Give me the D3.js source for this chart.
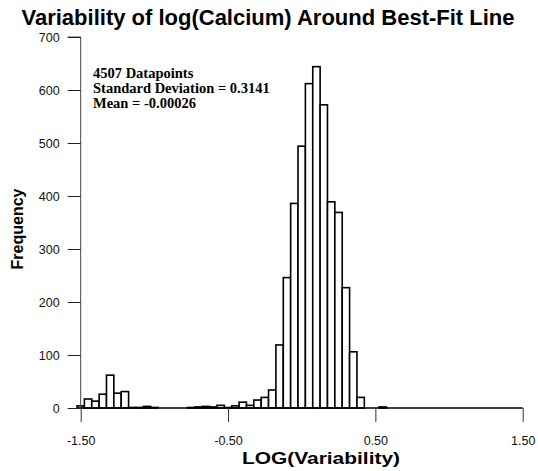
<!DOCTYPE html>
<html>
<head>
<meta charset="utf-8">
<script src="https://cdn.jsdelivr.net/npm/d3@7"></script>
<style>
  html, body { margin: 0; padding: 0; background: #fff; }
  svg { display: block; }
</style>
</head>
<body>
<svg id="chart" width="538" height="471"></svg>
<script>
// ---- data ----
const binCenters = [-1.50,-1.45,-1.40,-1.35,-1.30,-1.25,-1.20,-1.15,-1.10,-1.05,-1.00,-0.95,-0.90,-0.85,-0.80,-0.75,-0.70,-0.65,-0.60,-0.55,-0.50,-0.45,-0.40,-0.35,-0.30,-0.25,-0.20,-0.15,-0.10,-0.05,0.00,0.05,0.10,0.15,0.20,0.25,0.30,0.35,0.40,0.45,0.50,0.55];
const binCounts  = [4,17,13,26,62,28,31,1,1,3,1,0,0,0,0,1,2,3,2,5,1,4,11,5,15,20,34,119,246,386,494,612,644,572,389,369,227,106,20,0,0,2];
const binWidth = 0.05;
const xTicks = [-1.5, -0.5, 0.5, 1.5];
const xTickLabels = ["-1.50", "-0.50", "0.50", "1.50"];
const yTicks = [0, 100, 200, 300, 400, 500, 600, 700];
const titleText = "Variability of log(Calcium) Around Best-Fit Line";
const xLabel = "LOG(Variability)";
const yLabel = "Frequency";
const notes = ["4507 Datapoints", "Standard Deviation = 0.3141", "Mean = -0.00026"];

// ---- layout ----
const svg = d3.select("#chart");
const x = d3.scaleLinear().domain([-1.5, 1.5]).range([80.7, 522.7]);
const y = d3.scaleLinear().domain([0, 700]).range([408, 37]);

// title
svg.append("text")
  .attr("x", 268).attr("y", 25)
  .attr("text-anchor", "middle")
  .attr("font-family", "Liberation Sans, Arial, sans-serif")
  .attr("font-weight", "bold")
  .attr("font-size", 22)
  .attr("textLength", 493).attr("lengthAdjust", "spacingAndGlyphs")
  .text(titleText);

// bars
const bars = binCenters.map((c, i) => ({c, n: binCounts[i]})).filter(d => d.n > 0);
svg.append("g").selectAll("rect").data(bars).join("rect")
  .attr("x", d => x(d.c - binWidth / 2))
  .attr("width", d => x(d.c + binWidth / 2) - x(d.c - binWidth / 2))
  .attr("y", d => y(d.n))
  .attr("height", d => y(0) - y(d.n))
  .attr("fill", "#fff")
  .attr("stroke", "#000")
  .attr("stroke-width", 1.6);

// y axis
const yAxis = d3.axisLeft(y).tickValues(yTicks).tickSize(13).tickPadding(8).tickFormat(d3.format("d"));
const gy = svg.append("g").attr("transform", `translate(${x(-1.5)},0)`).call(yAxis);
gy.select(".domain").attr("stroke", "#444").attr("d", `M-13,${y(700)}H0V${y(0)}`);
gy.selectAll(".tick line").attr("stroke", "#222");
gy.selectAll(".tick text")
  .attr("font-family", "Liberation Sans, Arial, sans-serif")
  .attr("font-size", 12.5).attr("fill", "#111");

// x axis
const xAxis = d3.axisBottom(x).tickValues(xTicks).tickSize(14).tickPadding(14)
  .tickFormat((d, i) => xTickLabels[i]);
const gx = svg.append("g").attr("transform", `translate(0,${y(0)})`).call(xAxis);
gx.select(".domain").attr("stroke", "#000").attr("stroke-width", 1.6).attr("d", `M${x(-1.5)},0H${x(1.5)}`);
gx.selectAll(".tick line").attr("stroke", "#333");
gx.selectAll(".tick text")
  .attr("font-family", "Liberation Sans, Arial, sans-serif")
  .attr("font-size", 12.5).attr("fill", "#111");

// axis labels
svg.append("text")
  .attr("x", 321).attr("y", 464)
  .attr("text-anchor", "middle")
  .attr("font-family", "Liberation Sans, Arial, sans-serif")
  .attr("font-weight", "bold").attr("font-size", 17)
  .attr("textLength", 158).attr("lengthAdjust", "spacingAndGlyphs")
  .text(xLabel);

svg.append("text")
  .attr("transform", "translate(23,229) rotate(-90)")
  .attr("text-anchor", "middle")
  .attr("font-family", "Liberation Sans, Arial, sans-serif")
  .attr("font-weight", "bold").attr("font-size", 16)
  .text(yLabel);

// annotation
svg.append("g").selectAll("text").data(notes).join("text")
  .attr("x", 93)
  .attr("y", (d, i) => 78 + i * 15)
  .attr("font-family", "Liberation Serif, Times New Roman, serif")
  .attr("font-weight", "bold").attr("font-size", 14.5)
  .text(d => d);
</script>
</body>
</html>
